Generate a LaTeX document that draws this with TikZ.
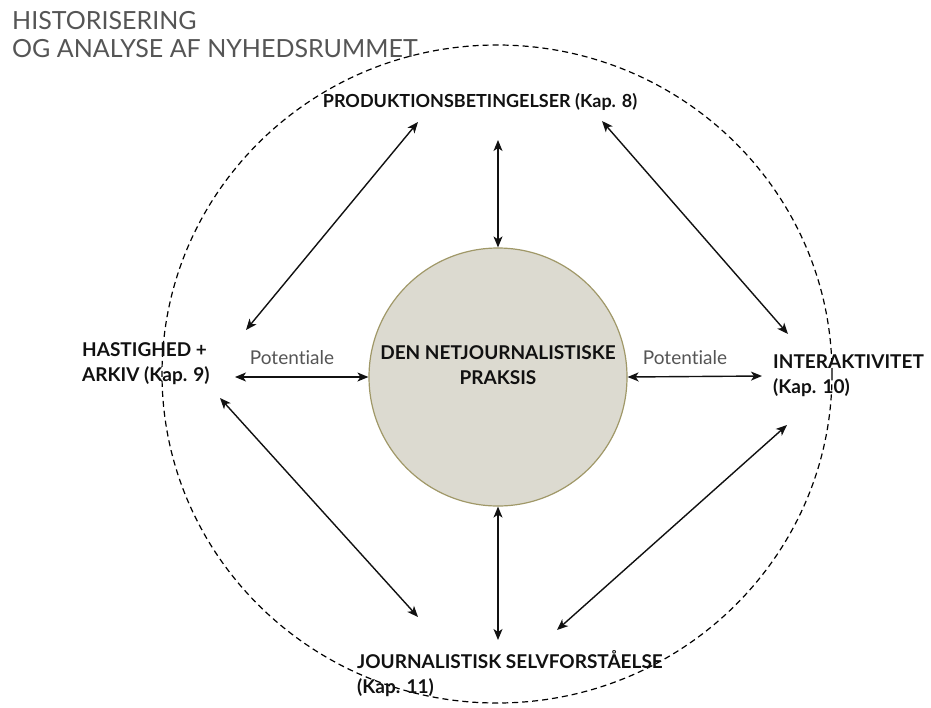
\documentclass[tikz,border=0pt]{standalone}
\usepackage{fontspec}
\setmainfont{Lato}[Ligatures=NoCommon]
\usetikzlibrary{arrows.meta}
\definecolor{praksisfill}{HTML}{DCDAD0}
\definecolor{praksisline}{HTML}{A09868}
\definecolor{txtgray}{HTML}{555555}
\definecolor{lblblack}{HTML}{111111}

\begin{document}
\begin{tikzpicture}[x=1pt, y=-1pt,
    lbl/.style={font=\bfseries\fontsize{19}{25}\selectfont, text=lblblack, align=left, inner sep=0pt},
    pot/.style={font=\fontsize{19}{22}\selectfont, text=txtgray, inner sep=0pt},
    link/.style={line width=1.4pt, lblblack, {Stealth[length=11pt,width=9pt,inset=3pt]}-{Stealth[length=11pt,width=9pt,inset=3pt]}}]
    \useasboundingbox (0,0) rectangle (931,707);
    % title
    \node[anchor=west, font=\fontsize{25}{28}\selectfont, text=txtgray, align=left, inner sep=0pt] (titel) at (12,35)
      {HISTORISERING\\OG ANALYSE AF NYHEDSRUMMET};
    % outer dashed frame
    \draw[line width=1.2pt, dash pattern=on 6pt off 4pt] (497,374) ellipse [x radius=335pt, y radius=329pt];
    % centre
    \node[circle, fill=praksisfill, draw=praksisline, line width=1.2pt, minimum size=258pt, inner sep=0pt] (praksis) at (498,377) {};
    \node[lbl, align=center] (praksistxt) at (498,365) {DEN NETJOURNALISTISKE\\PRAKSIS};
    % labels
    \node[lbl, font=\bfseries\fontsize{18}{25}\selectfont] (prod) at (480,102) {PRODUKTIONSBETINGELSER (Kap. 8)};
    \node[lbl, anchor=west] (hast) at (82,364) {HASTIGHED +\\ARKIV (Kap. 9)};
    \node[lbl, anchor=west] (inter) at (773,376) {INTERAKTIVITET\\(Kap. 10)};
    \node[lbl, anchor=west] (journ) at (357,674) {JOURNALISTISK SELVFORSTÅELSE\\(Kap. 11)};
    \node[pot] (potv) at (292,358) {Potentiale};
    \node[pot] (poth) at (685,358) {Potentiale};
    % arrow ends
    \coordinate (prodsw) at (418,122);
    \coordinate (prods) at (498,140);
    \coordinate (prodse) at (602,121);
    \coordinate (hastne) at (246,330);
    \coordinate (haste) at (235,377);
    \coordinate (hastse) at (220,398);
    \coordinate (internw) at (788,334);
    \coordinate (interw) at (762,376);
    \coordinate (intersw) at (787,425);
    \coordinate (journnw) at (418,617);
    \coordinate (journn) at (498,640);
    \coordinate (journne) at (557,630);
    % arrows
    \draw[link] (prodsw) -- (hastne);
    \draw[link] (prods) -- (praksis.north);
    \draw[link] (prodse) -- (internw);
    \draw[link] (haste) -- (praksis.west);
    \draw[link] (praksis.east) -- (interw);
    \draw[link] (hastse) -- (journnw);
    \draw[link] (praksis.south) -- (journn);
    \draw[link] (intersw) -- (journne);
\end{tikzpicture}
\end{document}
